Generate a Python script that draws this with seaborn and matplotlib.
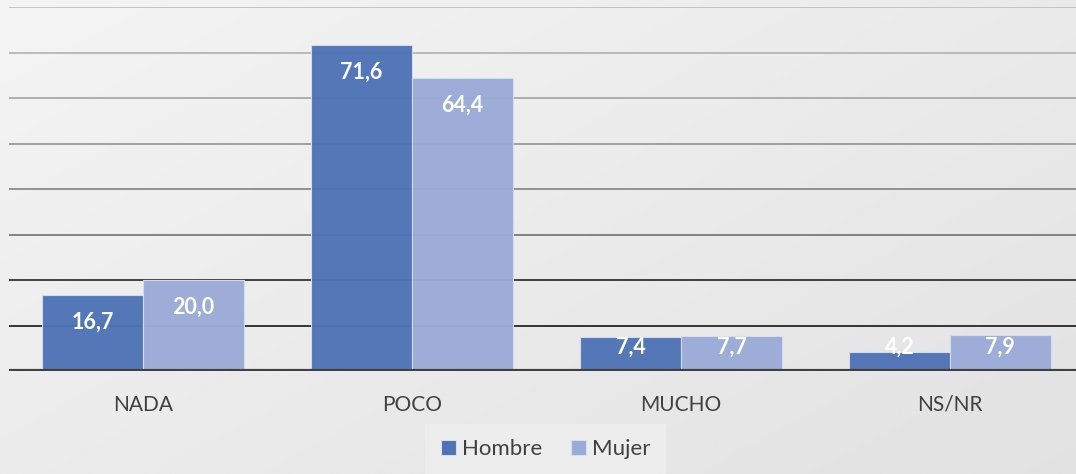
import numpy as np
import pandas as pd
import matplotlib
matplotlib.use("Agg")
import matplotlib.pyplot as plt
from matplotlib.patches import Patch
import seaborn as sns

categories = ["NADA", "POCO", "MUCHO", "NS/NR"]
hombre = [16.7, 71.6, 7.4, 4.2]
mujer = [20.0, 64.4, 7.7, 7.9]
series_names = ["Hombre", "Mujer"]
series_colors = ["#4E72B5", "#9AABD8"]

df = pd.DataFrame({
    "cat": categories * 2,
    "serie": [series_names[0]] * 4 + [series_names[1]] * 4,
    "valor": hombre + mujer,
})

sns.set_theme(style="white")
plt.rcParams["font.family"] = ["Lato", "DejaVu Sans"]

fig = plt.figure(figsize=(10.76, 4.74), dpi=100)

# background gradient
bg = fig.add_axes([0, 0, 1, 1], zorder=-10)
yy, xx = np.mgrid[0:1:200j, 0:1:400j]
grad = 0.955 - 0.07 * (0.55 * xx + 0.45 * yy)
bg.imshow(grad, cmap="gray", vmin=0, vmax=1, aspect="auto", extent=[0, 1, 0, 1], origin="upper")
bg.axis("off")

ax = fig.add_axes([8.5 / 1076, 103 / 474, 1.0, (371 - 7) / 474])
ax.set_facecolor("none")

sns.barplot(data=df, x="cat", y="valor", hue="serie", order=categories,
            hue_order=series_names, palette=series_colors, saturation=1,
            width=0.75, gap=0, ax=ax, legend=False, edgecolor="#D5DDEF",
            linewidth=0.8, alpha=0.96, zorder=3)

ax.set_ylim(0, 80)
ax.set_xlim(-0.5, 3.5)

grid_colors = {10: "#262626", 20: "#333333", 30: "#7A7A7A", 40: "#8A8A8A",
               50: "#999999", 60: "#A8A8A8", 70: "#B5B5B5", 80: "#C0C0C0"}
for v, c in grid_colors.items():
    ax.axhline(v, color=c, lw=1.3, zorder=1)
ax.axhline(0, color="#404040", lw=3, zorder=5)

for container in ax.containers:
    for bar in container:
        h = bar.get_height()
        x = bar.get_x() + bar.get_width() / 2
        y = max(h - 6.0, 5.3)
        ax.text(x, y, f"{h:.1f}".replace(".", ","), ha="center", va="center",
                color="white", fontsize=15.5, fontweight="bold", zorder=6)

ax.set_yticks([])
ax.set_xlabel("")
ax.set_ylabel("")
ax.tick_params(axis="x", length=0, pad=17, labelsize=15, labelcolor="#404040")
for s in ax.spines.values():
    s.set_visible(False)

handles = [Patch(facecolor=c, edgecolor="#D5DDEF", lw=0.8) for c in series_colors]
leg = fig.legend(handles, series_names, loc="lower center", bbox_to_anchor=(0.507, -0.025),
                 ncol=2, frameon=True, fontsize=16, handlelength=0.7, handleheight=0.7,
                 handletextpad=0.25, columnspacing=1.3, borderpad=0.7, fancybox=False)
leg.get_frame().set_facecolor("#EFEFEF")
leg.get_frame().set_edgecolor("none")
for t in leg.get_texts():
    t.set_color("#404040")

fig.savefig("out.png", dpi=100)
